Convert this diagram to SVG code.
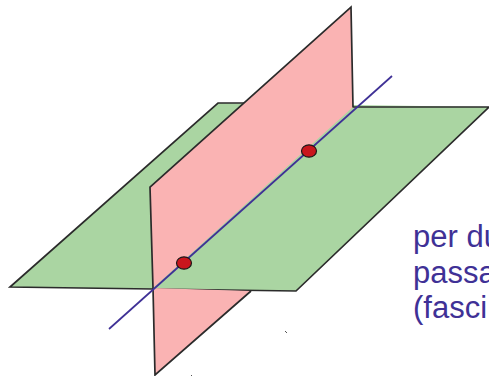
<svg xmlns="http://www.w3.org/2000/svg" width="489" height="376" viewBox="0 0 489 376">
<style>
.edge{stroke:#2b2b2b;stroke-width:1.7;fill:none;stroke-linejoin:miter}
.green{fill:#aad5a2}
.pink{fill:#fab3b3}
.axis{stroke:#3f3196;stroke-width:1.7;fill:none}
.pt{fill:#c9161d;stroke:#1a1a1a;stroke-width:1.2}
text{font-family:"Liberation Sans",Arial,sans-serif;font-size:31px;fill:#3f3196}
</style>
<rect width="489" height="376" fill="#fff"/>
<g id="plane-green">
<path class="green" d="M218 103L489 107L296 291L10 287Z"/>
<path class="edge" d="M245 103L218 103L10 287L296 291L489 107L352 107"/>
</g>
<g id="plane-pink">
<path class="pink" d="M150 187L351 7L353 107L153 288Z"/>
<path class="pink" d="M153 288L251 291L155 375Z"/>
<path class="edge" d="M153 288L150 187L351 7L353 107"/>
<path class="edge" d="M153 288L155 375L251 291"/>
</g>
<g id="connectors">
<path class="axis" d="M109 329L392 76"/>
</g>
<g id="point-a"><ellipse class="pt" cx="184" cy="263" rx="7.5" ry="6.2"/></g>
<g id="point-b"><ellipse class="pt" cx="309" cy="151" rx="7.5" ry="6.2"/></g>
<g id="label">
<text x="413" y="247">per du</text>
<text x="413" y="283">passa</text>
<text x="413" y="318">(fasci</text>
</g>
<path d="M285 331L287 333M191 375L192 376" stroke="#555" stroke-width="1" fill="none"/>
</svg>
